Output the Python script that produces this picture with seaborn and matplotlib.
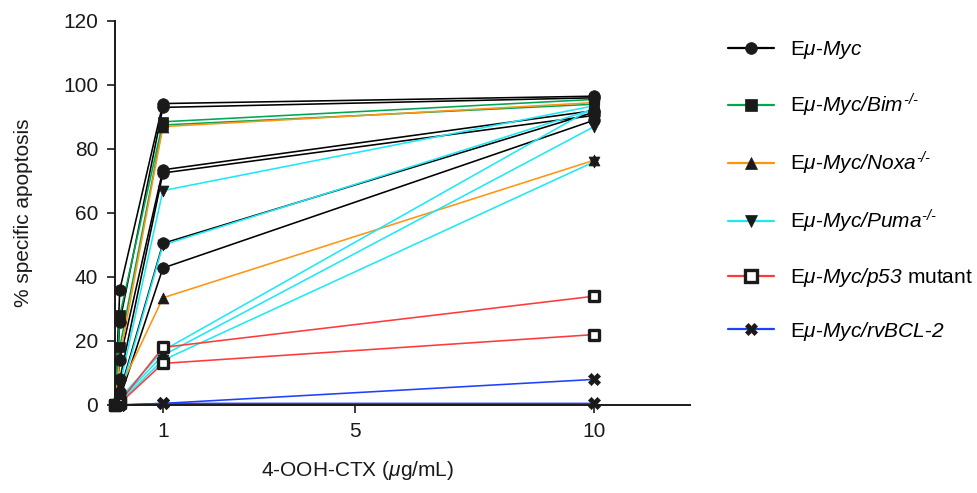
import matplotlib
matplotlib.use("Agg")
import matplotlib.pyplot as plt
from matplotlib.lines import Line2D
import seaborn as sns
import pandas as pd

# ---------------- data ----------------
doses = [0, 0.1, 1, 10]
x_ticks = [1, 5, 10]
y_ticks = [0, 20, 40, 60, 80, 100, 120]

myc_lines = [
    [0, 36, 94.2, 96.5],
    [0, 26, 93.0, 96.0],
    [0, 14, 73.5, 92.0],
    [0, 8, 72.5, 90.5],
    [0, 4, 50.5, 91.5],
    [0, 2, 42.8, 89.0],
]
bim_lines = [
    [0, 28, 88.5, 95.5],
    [0, 18, 87.5, 94.0],
]
noxa_lines = [
    [0, 15, 87.0, 94.5],
    [0, 5, 33.5, 76.5],
]
puma_lines = [
    [0, 6, 67.0, 93.5],
    [0, 3, 50.0, 92.5],
    [0, 2, 17.0, 93.0],
    [0, 1.5, 15.5, 87.0],
    [0, 1, 14.0, 76.0],
]
p53_lines = [
    [0, 1, 18.0, 34.0],
    [0, 0.5, 13.0, 22.0],
]
bcl2_lines = [
    [0, 0, 0.5, 0.5],
    [0, 0, 0.5, 8.0],
]

group_names = ["Myc", "Bim", "Noxa", "Puma", "p53", "BCL2"]
group_data = [myc_lines, bim_lines, noxa_lines, puma_lines, p53_lines, bcl2_lines]
legend_labels = [
    r"E$μ$-$Myc$",
    r"E$μ$-$Myc/Bim^{\text{-/-}}$",
    r"E$μ$-$Myc/Noxa^{\text{-/-}}$",
    r"E$μ$-$Myc/Puma^{\text{-/-}}$",
    r"E$μ$-$Myc/p53$ mutant",
    r"E$μ$-$Myc/rvBCL$-$2$",
]

# ---------------- style ----------------
line_colors = ["#000000", "#00a651", "#ff9412", "#1ee8f5", "#ff3a3a", "#2040ff"]
markers = ["o", "s", "^", "v", "s", "X"]
marker_sizes = [70, 52, 62, 62, 62, 75]
marker_face = ["k", "k", "k", "k", "white", "k"]
marker_lw = [0.5, 0.5, 0.5, 0.5, 2.4, 0.5]
marker_order = [3, 2, 1, 0, 4, 5]

sns.set_theme(style="white")
plt.rcParams["font.family"] = ["Liberation Sans", "DejaVu Sans"]
plt.rcParams["mathtext.fontset"] = "custom"
plt.rcParams["mathtext.rm"] = "Liberation Sans:italic"
plt.rcParams["mathtext.it"] = "Liberation Sans:italic"
plt.rcParams["mathtext.sf"] = "Liberation Sans"
plt.rcParams["mathtext.bf"] = "Liberation Sans:bold"
plt.rcParams["text.color"] = "black"
plt.rcParams["axes.labelcolor"] = "black"

fig = plt.figure(figsize=(9.78, 4.93), dpi=100)
ax = fig.add_axes([115 / 978, 1 - 405 / 493, 575 / 978, 384 / 493])

rows = []
for g, lines in zip(group_names, group_data):
    for i, vals in enumerate(lines):
        for d, v in zip(doses, vals):
            rows.append({"group": g, "line": f"{g}_{i}", "dose": d, "apop": v})
df = pd.DataFrame(rows)

# lines
for gi, g in enumerate(group_names):
    sub = df[df["group"] == g]
    for ln, s in sub.groupby("line", sort=False):
        sns.lineplot(data=s, x="dose", y="apop", ax=ax, color=line_colors[gi],
                     lw=1.15, estimator=None, sort=False, zorder=2 + gi * 0.01,
                     clip_on=False)

# markers
for k, gi in enumerate(marker_order):
    g = group_names[gi]
    sub = df[df["group"] == g]
    sns.scatterplot(data=sub, x="dose", y="apop", ax=ax, marker=markers[gi],
                    s=marker_sizes[gi], color=marker_face[gi], edgecolor="k",
                    linewidth=marker_lw[gi], zorder=5 + k * 0.01, clip_on=False,
                    legend=False)

ax.set_xlim(0, 12)
ax.set_ylim(0, 120)
ax.set_xticks(x_ticks)
ax.set_xticklabels([str(t) for t in x_ticks])
ax.set_yticks(y_ticks)
ax.set_yticklabels([str(t) for t in y_ticks])
ax.tick_params(axis="both", which="both", direction="out", length=6, width=1.2,
               labelsize=15, color="k", labelcolor="k", left=True, bottom=True, pad=6)
for side in ["top", "right"]:
    ax.spines[side].set_visible(False)
for side in ["left", "bottom"]:
    ax.spines[side].set_color("k")
    ax.spines[side].set_linewidth(1.4)

ax.set_xlabel(r"4-OOH-CTX ($μ$g/mL)", fontsize=15, color="k")
ax.set_ylabel("% specific apoptosis", fontsize=15, color="k")
ax.xaxis.set_label_coords(0.4226, -0.14)
ax.yaxis.set_label_coords(-0.1426, 0.5)

handles = []
for gi in range(len(group_names)):
    handles.append(Line2D([0], [0], color=line_colors[gi], lw=1.6,
                          marker=markers[gi], markersize=8.5 if gi != 4 else 8,
                          markerfacecolor=marker_face[gi], markeredgecolor="k",
                          markeredgewidth=marker_lw[gi] if gi == 4 else 0.5))
fig.legend(handles, legend_labels, loc="upper left",
           bbox_to_anchor=(728 / 978, 1 - 39 / 493), frameon=False,
           fontsize=15, handlelength=2.2, handletextpad=0.8, labelspacing=1.48,
           borderpad=0, borderaxespad=0, labelcolor="black")

fig.savefig("out.png", dpi=100)
